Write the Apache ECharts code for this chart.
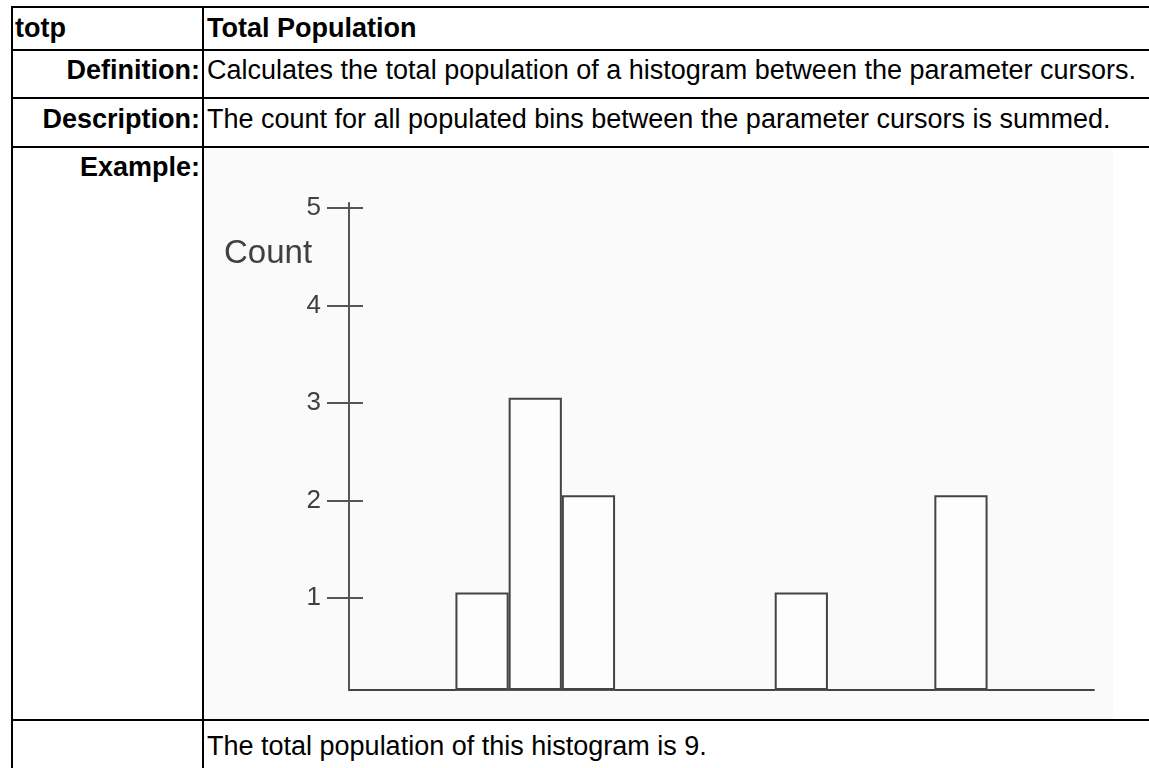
<!DOCTYPE html>
<html>
<head>
<meta charset="utf-8">
<script src="https://cdn.jsdelivr.net/npm/echarts@6/dist/echarts.min.js"></script>
<style>
  html, body { margin: 0; padding: 0; background: #ffffff; }
  body { width: 1149px; height: 768px; position: relative; overflow: hidden;
         font-family: "Liberation Sans", Arial, Helvetica, sans-serif; color: #000; }
  .hl { position: absolute; left: 11px; right: 0; height: 2px; background: #000; }
  .vl { position: absolute; top: 7px; bottom: 0; width: 2px; background: #000; }
  .t { position: absolute; font-size: 27px; white-space: nowrap; line-height: 30px; }
  .b { font-weight: bold; }
  .r { text-align: right; }
  #chart { position: absolute; left: 204px; top: 149px; width: 909px; height: 570px; }
</style>
</head>
<body>
  <div class="hl" style="top:6px"></div>
  <div class="hl" style="top:49px"></div>
  <div class="hl" style="top:97px"></div>
  <div class="hl" style="top:146px"></div>
  <div class="hl" style="top:719px"></div>
  <div class="vl" style="left:11px; top:6px"></div>
  <div class="vl" style="left:202px; top:6px"></div>

  <div class="t b" style="left:15px; top:13px">totp</div>
  <div class="t b" style="left:207px; top:13px">Total Population</div>
  <div class="t b r" style="left:13px; width:187px; top:55px">Definition:</div>
  <div class="t" style="left:207px; top:55px">Calculates the total population of a histogram between the parameter cursors.</div>
  <div class="t b r" style="left:13px; width:187px; top:104px">Description:</div>
  <div class="t" style="left:207px; top:104px">The count for all populated bins between the parameter cursors is summed.</div>
  <div class="t b r" style="left:13px; width:187px; top:152px">Example:</div>
  <div class="t" style="left:207px; top:731px">The total population of this histogram is 9.</div>

  <div id="chart"></div>

<script>
// Histogram bins (14 bins between the cursors) and their counts
const bins = ["0","1","2","3","4","5","6","7","8","9","10","11","12","13"];
const counts = [0, 0, 1, 3, 2, 0, 0, 0, 1, 0, 0, 2, 0, 0];
const yTickValues = [1, 2, 3, 4, 5];
const yAxisTitle = "Count";

const axisColor = "#555555";
const textColor = "#404040";

const chart = echarts.init(document.getElementById("chart"), null, { renderer: "canvas" });

const option = {
  backgroundColor: "#fafafa",
  animation: false,
  title: {
    text: yAxisTitle,
    left: 15,
    top: 83,
    textStyle: { fontFamily: "Liberation Sans, Arial, sans-serif", fontSize: 33, fontWeight: "normal", color: textColor }
  },
  grid: [
    { left: 145, right: 19, top: 54, bottom: 29, containLabel: false },
    { left: 145, right: 19, top: 59, bottom: 121, containLabel: false }
  ],
  xAxis: [
    {
      type: "category", gridIndex: 0, data: bins, boundaryGap: true,
      axisLine: { show: true, lineStyle: { color: axisColor, width: 2 } },
      axisTick: { show: false }, axisLabel: { show: false }, splitLine: { show: false }
    },
    { type: "value", gridIndex: 1, show: false }
  ],
  yAxis: [
    {
      type: "value", gridIndex: 0, min: 0, max: 5,
      axisLine: { show: true, lineStyle: { color: axisColor, width: 2 } },
      axisTick: { show: false }, axisLabel: { show: false }, splitLine: { show: false }
    },
    {
      type: "value", gridIndex: 1, min: yTickValues[0], max: yTickValues[yTickValues.length - 1], interval: 1,
      position: "left", offset: 0,
      axisLine: { show: false },
      axisTick: { show: true, length: 22, inside: false, lineStyle: { color: axisColor, width: 2 } },
      axisLabel: { show: true, margin: 28, color: textColor, fontSize: 26, fontFamily: "Liberation Sans, Arial, sans-serif" },
      splitLine: { show: false }
    },
    {
      type: "value", gridIndex: 1, min: yTickValues[0], max: yTickValues[yTickValues.length - 1], interval: 1,
      position: "left", offset: 0,
      axisLine: { show: false },
      axisTick: { show: true, length: 14, inside: true, lineStyle: { color: axisColor, width: 2 } },
      axisLabel: { show: false },
      splitLine: { show: false }
    }
  ],
  series: [
    {
      type: "bar",
      xAxisIndex: 0, yAxisIndex: 0,
      data: counts,
      barCategoryGap: "0%",
      itemStyle: { color: "#fdfdfd", borderColor: "#444444", borderWidth: 2 }
    }
  ]
};

chart.setOption(option);
</script>
</body>
</html>
